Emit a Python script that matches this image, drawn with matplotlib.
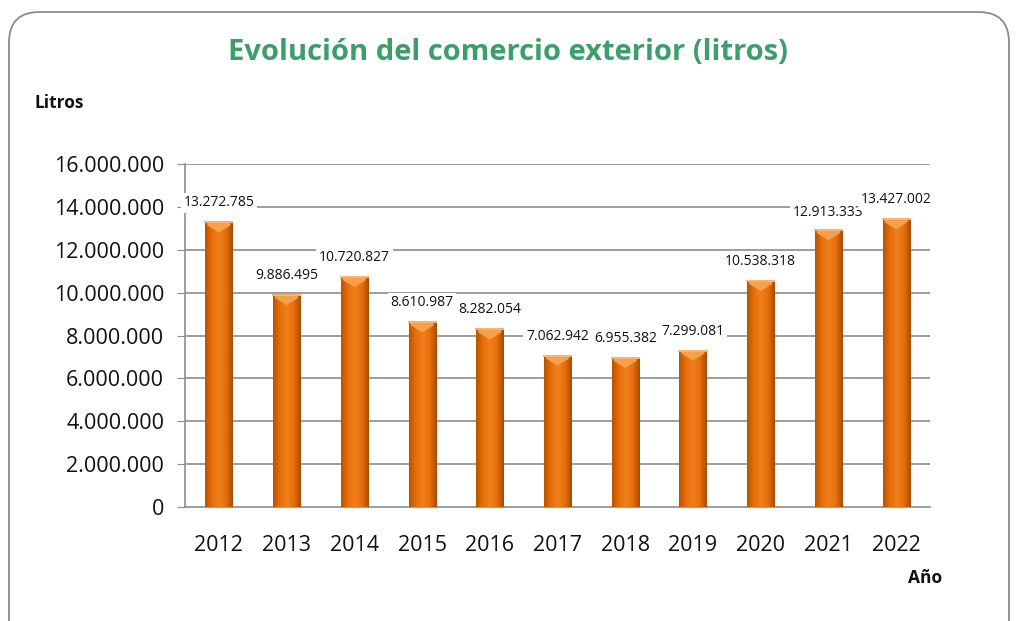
import matplotlib
matplotlib.use("Agg")
import matplotlib.pyplot as plt
import numpy as np
from matplotlib.patches import FancyBboxPatch, Polygon
from matplotlib.colors import LinearSegmentedColormap
import matplotlib.ticker as ticker

# data
years = ['2012', '2013', '2014', '2015', '2016', '2017', '2018', '2019', '2020', '2021', '2022']
litros = [13272785, 9886495, 10720827, 8610987, 8282054, 7062942, 6955382, 7299081, 10538318, 12913333, 13427002]
labels = ['13.272.785', '9.886.495', '10.720.827', '8.610.987', '8.282.054', '7.062.942',
          '6.955.382', '7.299.081', '10.538.318', '12.913.333', '13.427.002']
yticks = np.arange(0, 16000001, 2000000)

plt.rcParams['font.family'] = ['Open Sans', 'DejaVu Sans']

fig = plt.figure(figsize=(10.16, 6.21), dpi=100)
ax = fig.add_axes([185/1016., 1 - 507/621., (930-185)/1016., (507-164)/621.])

# rounded frame round the whole chart
frame = FancyBboxPatch((9/1016., -0.05), 1000/1016., 1.0 - 12/621. + 0.05,
                       boxstyle="round,pad=0,rounding_size=0.03",
                       transform=fig.transFigure, facecolor='none',
                       edgecolor='#8a8a8a', linewidth=1.3, mutation_aspect=1016/621.)
fig.patches.append(frame)

cmap = LinearSegmentedColormap.from_list('bar', ['#b85500', '#e86f0c', '#f0801c', '#e86f0c', '#a84c00'])
grad = np.linspace(0, 1, 64).reshape(1, -1)

x = np.arange(len(years))
w = 0.4
ax.set_xlim(-0.5, len(years) - 0.5)
ax.set_ylim(0, 16000000)

for gy in yticks[1:]:
    ax.axhline(gy, color='#8c8c8c', linewidth=1.2, zorder=1)

upp = 16000000 / 343.  # data units per pixel
bars = ax.bar(x, litros, width=w, color='#e8700c', zorder=2)
for b in bars:
    x0 = b.get_x()
    h = b.get_height()
    im = ax.imshow(grad, cmap=cmap, aspect='auto', extent=(x0, x0 + w, 0, h), zorder=3)
    im.set_clip_path(b)
    # light bevel at the top
    cap = Polygon([[x0 + 0.03, h], [x0 + w - 0.03, h], [x0 + w - 0.03, h - 3 * upp],
                   [x0 + w / 2, h - 10 * upp], [x0 + 0.03, h - 3 * upp]],
                  closed=True, facecolor='#f6a04a', edgecolor='none', zorder=4)
    ax.add_patch(cap)
    ax.plot([x0, x0 + w], [h, h], color='#f9b36a', linewidth=1.5, zorder=5)

offs = [560000, 560000, 560000, 560000, 560000, 560000, 560000, 560000, 560000, 460000, 560000]
for i, (v, t) in enumerate(zip(litros, labels)):
    ax.text(x[i], v + offs[i], t, ha='center', va='bottom', fontsize=10, color='#111111',
            zorder=6 + i, bbox=dict(facecolor='white', edgecolor='none', pad=2))

ax.set_yticks(yticks)
ax.yaxis.set_major_formatter(ticker.FuncFormatter(lambda v, p: '{:,.0f}'.format(v).replace(',', '.')))
ax.set_xticks(x)
ax.set_xticklabels(years)
ax.tick_params(axis='y', labelsize=15.5, length=6, color='#8c8c8c', pad=9, labelcolor='#111111')
ax.tick_params(axis='x', labelsize=15.5, length=0, pad=20, labelcolor='#111111')

for s in ['top', 'right']:
    ax.spines[s].set_visible(False)
ax.spines['left'].set_color('#8c8c8c')
ax.spines['bottom'].set_color('#8c8c8c')
ax.spines['left'].set_linewidth(1.2)
ax.spines['bottom'].set_linewidth(1.2)

fig.text(0.5, 1 - 52/621., 'Evolución del comercio exterior (litros)', ha='center', va='center',
         fontsize=21, fontweight='bold', color='#3b9e6b')
fig.text(35/1016., 1 - 103/621., 'Litros', ha='left', va='center', fontsize=12.5, fontweight='bold', color='#111111')
fig.text(942/1016., 1 - 578/621., 'Año', ha='right', va='center', fontsize=12.5, fontweight='bold', color='#111111')

fig.savefig('out.png', dpi=100)
